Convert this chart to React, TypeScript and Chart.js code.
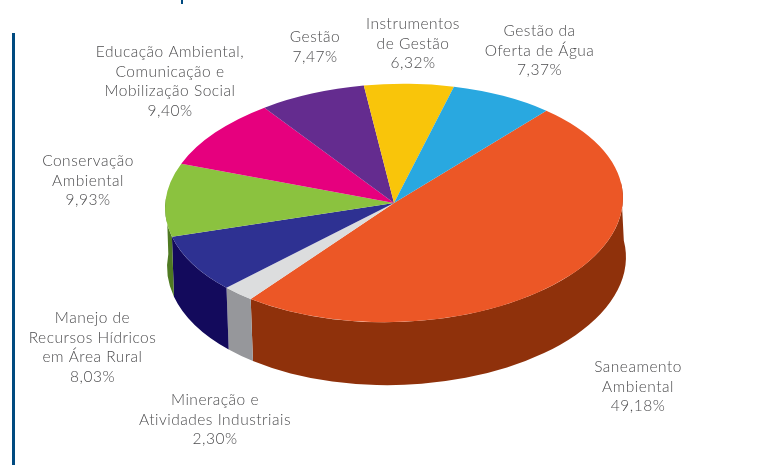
import React, { useEffect, useRef } from "react";
import { Chart, registerables } from "chart.js";

Chart.register(...registerables);

const categories = [
  "Saneamento Ambiental",
  "Mineração e Atividades Industriais",
  "Manejo de Recursos Hídricos em Área Rural",
  "Conservação Ambiental",
  "Educação Ambiental, Comunicação e Mobilização Social",
  "Gestão",
  "Instrumentos de Gestão",
  "Gestão da Oferta de Água",
];
const values = [49.18, 2.3, 8.03, 9.93, 9.4, 7.47, 6.32, 7.37];
const valueLabels = ["49,18%", "2,30%", "8,03%", "9,93%", "9,40%", "7,47%", "6,32%", "7,37%"];
const labelLines = [
  ["Saneamento", "Ambiental"],
  ["Mineração e", "Atividades Industriais"],
  ["Manejo de", "Recursos Hídricos", "em Área Rural"],
  ["Conservação", "Ambiental"],
  ["Educação Ambiental,", "Comunicação e", "Mobilização Social"],
  ["Gestão"],
  ["Instrumentos", "de Gestão"],
  ["Gestão da", "Oferta de Água"],
];
const topColors = ["#ec5726", "#dcddde", "#2e3192", "#8bc23f", "#e6007e", "#642c8f", "#f9c50a", "#29a8e0"];
const wallColors = ["#8f310b", "#96979b", "#130a5c", "#4f7a22", "#8a004c", "#3c1a56", "#957606", "#196586"];

// layout of the text blocks: horizontal centre and first line centre
const labelX = [638, 215, 92.5, 88, 170, 315, 413, 539.5];
const labelY = [367, 400, 318, 161, 52, 37, 24, 31];
const LINE_HEIGHT = 19.7;

const TOP_CY = 203;
const SQUASH = 0.52;
const RADIUS = 229;
const TILT = -0.03;
const BOTTOM = { dx: 2.5, cy: 262, rx: 229.5, ry: 123 };
const START_ANGLE = 42.6;

const pie3d = {
  id: "pie3d",
  beforeDatasetsDraw(chart: any) {
    const { ctx } = chart;
    // page furniture
    ctx.save();
    ctx.fillStyle = "#004a80";
    ctx.fillRect(12, 33, 3, 432);
    ctx.fillRect(181, 0, 2, 4);
    ctx.restore();

    const arcs = chart.getDatasetMeta(0).data;
    const cx0 = arcs[0].x;
    const cy0 = arcs[0].y;
    const r0 = arcs[0].outerRadius;
    const SPILL = 0.12;
    arcs.forEach((arc: any, i: number) => {
      const { startAngle, endAngle } = arc.getProps(["startAngle", "endAngle"], true);
      for (let k = -1; k <= 2; k++) {
        const a = Math.max(startAngle, 2 * Math.PI * k - SPILL);
        const b = Math.min(endAngle, 2 * Math.PI * k + Math.PI + SPILL);
        if (b <= a) continue;
        const bx = cx0 + BOTTOM.dx;
        ctx.beginPath();
        ctx.ellipse(cx0, TOP_CY, r0, r0 * SQUASH, TILT, a, b, false);
        ctx.ellipse(bx, BOTTOM.cy, BOTTOM.rx, BOTTOM.ry, TILT, b, a, true);
        ctx.closePath();
        ctx.fillStyle = wallColors[i];
        ctx.fill();
      }
    });
    ctx.save();
    ctx.translate(cx0, TOP_CY);
    ctx.rotate(TILT);
    ctx.scale(1, SQUASH);
    ctx.translate(-cx0, -cy0);
  },
  afterDatasetsDraw(chart: any) {
    const { ctx } = chart;
    ctx.restore();
    ctx.save();
    ctx.font = '300 15.5px Lato, "Open Sans", sans-serif';
    (ctx as any).letterSpacing = "0.5px";
    ctx.fillStyle = "#4d4d4f";
    ctx.textAlign = "center";
    ctx.textBaseline = "middle";
    labelLines.forEach((lines, i) => {
      [...lines, valueLabels[i]].forEach((t, j) => {
        ctx.fillText(t, labelX[i], labelY[i] + j * LINE_HEIGHT);
      });
    });
    ctx.restore();
  },
};

export default function App() {
  const ref = useRef<HTMLCanvasElement>(null);
  useEffect(() => {
    const chart = new Chart(ref.current!, {
      type: "pie",
      data: {
        labels: categories,
        datasets: [
          {
            data: values,
            backgroundColor: topColors,
            borderWidth: 0,
            radius: RADIUS,
            clip: false,
          } as any,
        ],
      },
      options: {
        responsive: false,
        animation: false,
        rotation: START_ANGLE,
        layout: { padding: { left: 27 } },
        plugins: { legend: { display: false }, tooltip: { enabled: false } },
      },
      plugins: [pie3d],
    });
    return () => chart.destroy();
  }, []);
  return (
    <div style={{ position: "fixed", left: 0, top: 0, width: 761, height: 465, background: "#fff" }}>
      <canvas ref={ref} width={761} height={465} style={{ display: "block" }} />
    </div>
  );
}
